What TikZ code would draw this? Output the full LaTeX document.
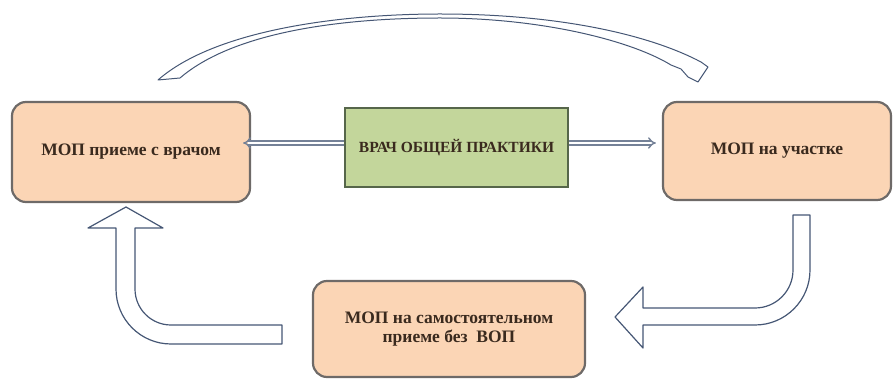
\documentclass[tikz,border=0pt]{standalone}
\usepackage{fontspec}
\setmainfont{Liberation Serif}
\usetikzlibrary{arrows.meta}
\definecolor{peach}{HTML}{FBD5B5}
\definecolor{peachline}{HTML}{6E6A68}
\definecolor{greenfill}{HTML}{C3D69B}
\definecolor{greenline}{HTML}{56664A}
\definecolor{txt}{HTML}{3A2A1E}
\definecolor{arrline}{HTML}{465775}
\tikzset{
  peachbox/.style={draw=peachline, line width=2.2pt, fill=peach, rounded corners=14pt,
    minimum width=#1, align=center, text=txt, font=\fontsize{17.5}{19}\selectfont\bfseries},
  greenbox/.style={draw=greenline, line width=1.8pt, fill=greenfill,
    minimum width=223pt, minimum height=79pt, text=txt, font=\fontsize{15.5}{18}\selectfont\bfseries},
  thinarrow/.style={draw=arrline!75, double=white, double distance=2.4pt, line width=1.4pt,
    -{Implies[length=5pt]}},
  bigarrow/.style={draw=arrline, line width=1.2pt, fill=white, line join=round}
}
\begin{document}
\begin{tikzpicture}[x=1pt,y=1pt]
\useasboundingbox (0,0) rectangle (894,380);
% boxes
\node[peachbox=238pt, minimum height=100pt] (left) at (131,228) {МОП приеме с врачом};
\node[peachbox=228pt, minimum height=98pt] (right) at (777,229) {МОП на участке};
\node[peachbox=272pt, minimum height=96pt] (bottom) at (449,51) {МОП на самостоятельном\\приеме без \ ВОП};
\node[greenbox] (gp) at (456.5,232.5) {ВРАЧ ОБЩЕЙ ПРАКТИКИ};
% thin double arrows
\coordinate (la) at ([xshift=-8pt]left.east |- 0,237);
\coordinate (ra) at ([xshift=-6pt]right.west |- 0,237);
\draw[thinarrow] (gp.west |- la) -- (la);
\draw[thinarrow] (gp.east |- ra) -- (ra);
% top arch arrow
\draw[bigarrow, line width=1pt] (158,300) .. controls (215,350) and (340,366) .. (440,366)
  .. controls (560,366) and (650,345) .. (701,318)
  -- (708,313) -- (698,298) -- (688,303) -- (681,311) -- (671,315)
  .. controls (630,340) and (540,362) .. (440,362)
  .. controls (330,362) and (230,345) .. (180,302) -- cycle;
% bottom-left bent arrow
\draw[bigarrow] (282,55) -- (171,55) arc (270:180:36) -- (135,152) -- (163,152)
  -- (126,173) -- (88,152) -- (116,152) -- (116,91) arc (180:270:55)
  -- (282,36) -- cycle;
% right bent arrow
\draw[bigarrow] (793,165) -- (793,110) arc (0:-90:38) -- (643,72) -- (643,93)
  -- (615,63) -- (643,32) -- (643,55) -- (755,55) arc (-90:0:55)
  -- (810,165) -- cycle;
\end{tikzpicture}
\end{document}
